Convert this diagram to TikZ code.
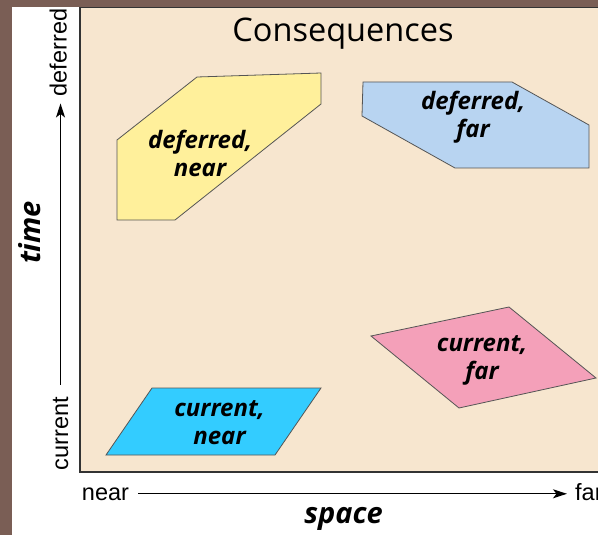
\documentclass[tikz,border=0pt]{standalone}
\usepackage{fontspec}
\setmainfont{Open Sans}
\newfontfamily\axisfont{Liberation Sans}
\usetikzlibrary{arrows.meta}
\definecolor{bgbrown}{HTML}{7A5E55}
\definecolor{panel}{HTML}{F7E6CF}
\definecolor{dnfill}{HTML}{FFF09B}
\definecolor{dffill}{HTML}{B8D4F1}
\definecolor{cffill}{HTML}{F4A0B9}
\definecolor{cnfill}{HTML}{33CCFF}
\definecolor{edge}{HTML}{555555}
\tikzset{>={Stealth[length=14pt,width=9pt,inset=3.5pt]},
  region/.style={draw=edge, line width=0.8pt},
  tag/.style={font=\fontsize{24}{28}\selectfont\bfseries\itshape, align=center, inner sep=0pt},
  endlabel/.style={font=\fontsize{23.5}{28}\selectfont\axisfont, inner sep=0pt},
  axisname/.style={font=\fontsize{29}{34}\selectfont\bfseries\itshape, inner sep=0pt}}

\begin{document}
\begin{tikzpicture}[x=1pt,y=-1pt]
  \useasboundingbox (0,0) rectangle (598,535);
  \clip (0,0) rectangle (598,535);
  \fill[bgbrown] (0,0) rectangle (598,535);
  \fill[white] (12,7) rectangle (600,536);
  \filldraw[fill=panel, draw=black!80, line width=1.5pt] (80,7.5) rectangle (605,472);

  \node[font=\fontsize{32.5}{38}\selectfont, anchor=base, inner sep=0pt] (title) at (343,41.7) {Consequences};

  % the four regions
  \filldraw[region, fill=dnfill] (117,140) -- (197,77) -- (321,73) -- (321,104) -- (175,220) -- (117,220) -- cycle;
  \filldraw[region, fill=dffill] (363,82) -- (512,82) -- (589,125) -- (589,168) -- (455,168) -- (362,116) -- cycle;
  \filldraw[region, fill=cffill] (371,336) -- (509,307) -- (596,378) -- (459,408) -- cycle;
  \filldraw[region, fill=cnfill] (106,455) -- (152,388) -- (321,388) -- (275,455) -- cycle;

  \node[tag] (dn) at (200,153.5) {deferred,\\near};
  \node[tag] (df) at (473,117.2) {deferred,\\far};
  \node[tag] (cf) at (482,360) {current,\\far};
  \node[tag] (cn) at (219.5,422.5) {current,\\near};

  % axes
  \node[axisname, rotate=90] (time) at (30,232.5) {time};
  \node[axisname, anchor=base] (space) at (343.5,523) {space};
  \node[endlabel, rotate=90, anchor=base] (cur) at (68,433.5) {current};
  \node[endlabel, rotate=90, anchor=base] (def) at (66.7,52.5) {deferred};
  \node[endlabel, anchor=base] (near) at (105.5,500) {near};
  \node[endlabel, anchor=base west] (far) at (575,500) {far};

  \draw[->, line width=1.3pt, shorten <=12pt, shorten >=7pt] (cur.east) -- (cur.east |- def.west);
  \draw[->, line width=1.3pt, shorten <=9pt, shorten >=8pt] (near.east) -- (near.east -| far.west);
\end{tikzpicture}
\end{document}
